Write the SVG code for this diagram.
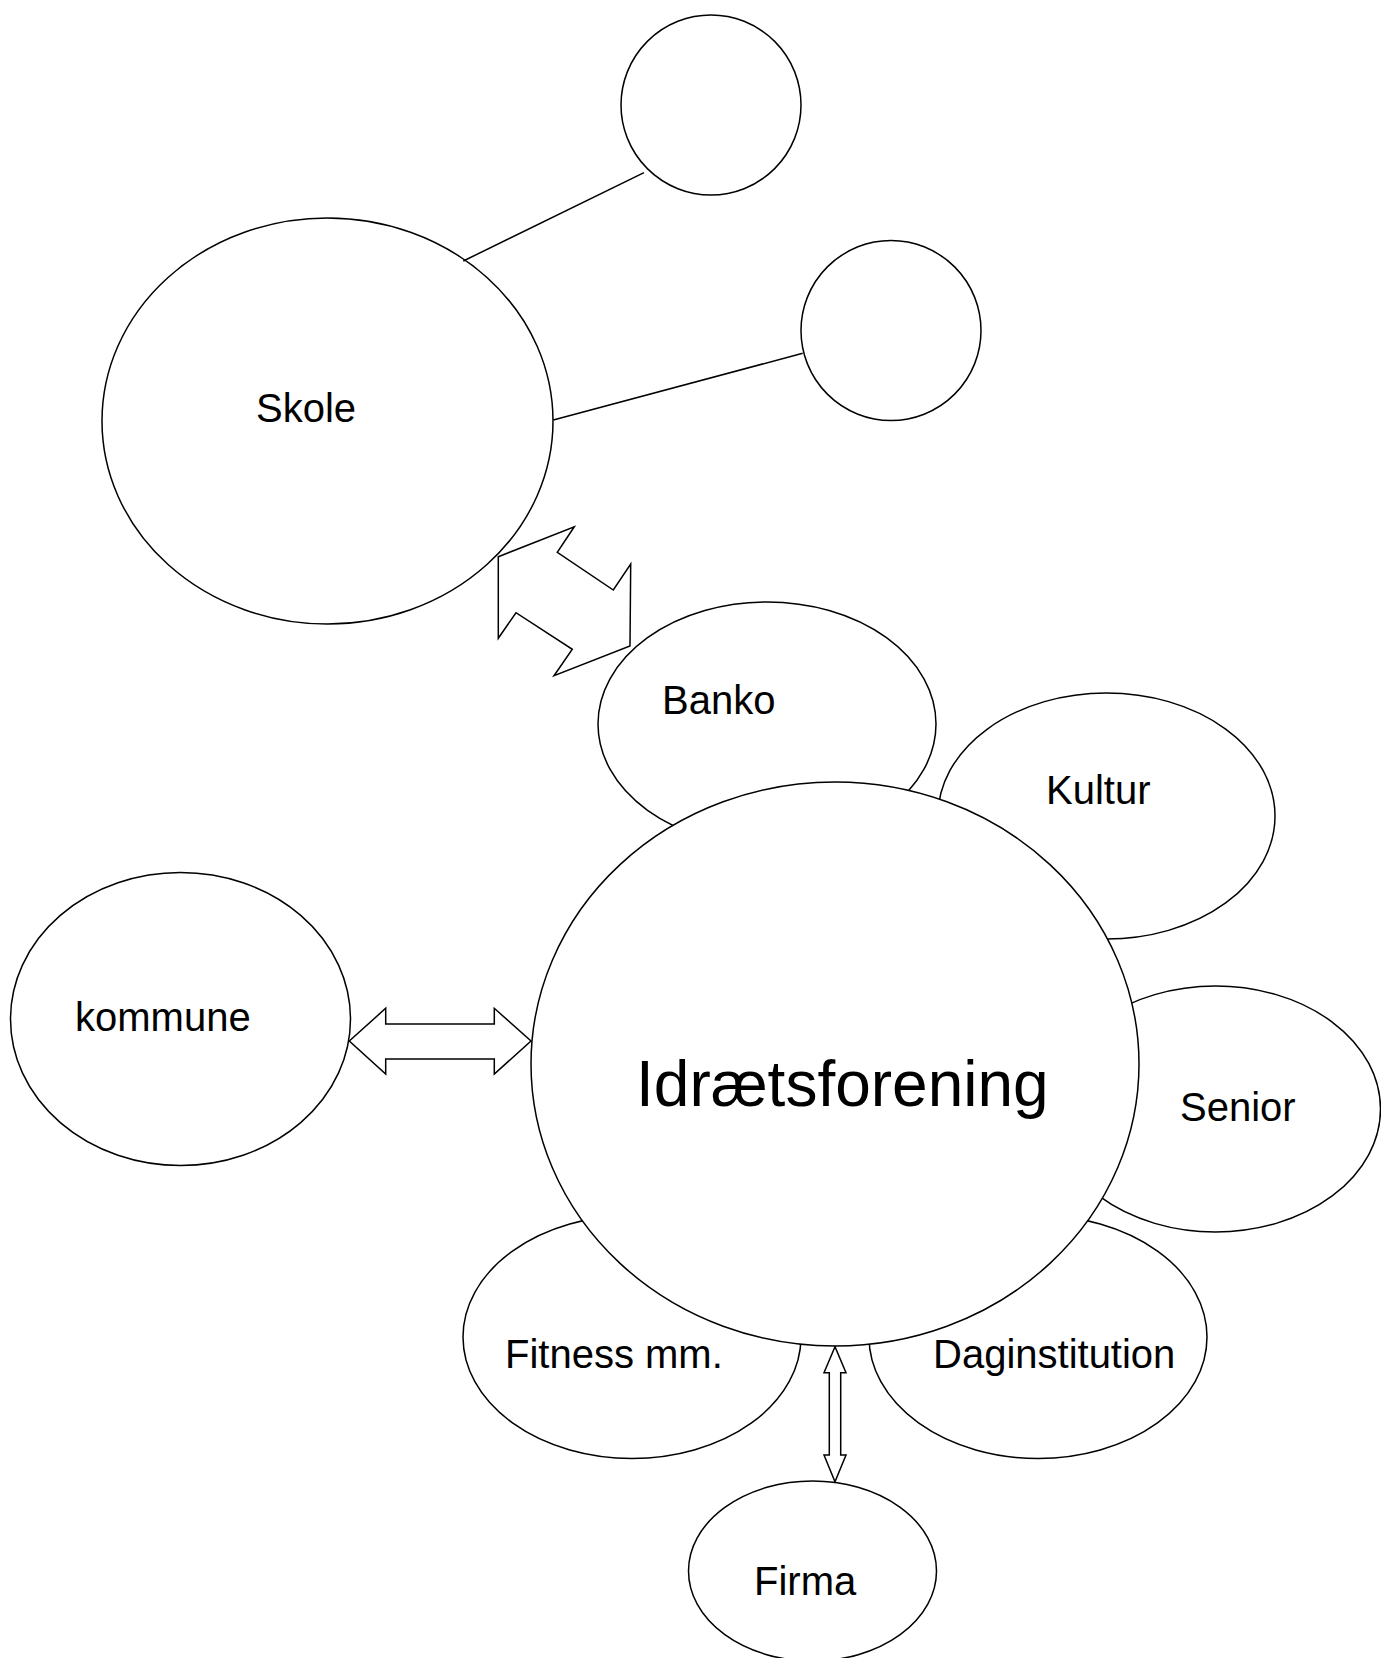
<svg xmlns="http://www.w3.org/2000/svg" width="1381" height="1658" viewBox="0 0 1381 1658">
<style>
.n{fill:#fff;stroke:#000;stroke-width:1.5}
.t{font-family:"Liberation Sans",Arial,sans-serif;font-size:40px;fill:#000}
.big{font-size:64px}
.c{stroke:#000;stroke-width:1.5;fill:none}
.a{fill:#fff;stroke:#000;stroke-width:1.5;stroke-linejoin:miter}
</style>
<rect width="1381" height="1658" fill="#fff"/>
<g id="circle-top"><circle class="n" cx="711" cy="105" r="90"/></g>
<g id="circle-right"><circle class="n" cx="891" cy="330.5" r="90"/></g>
<g id="skole"><ellipse class="n" cx="327.5" cy="421" rx="225.5" ry="203"/><text class="t" x="256" y="422">Skole</text></g>
<g id="banko"><ellipse class="n" cx="767" cy="724" rx="169" ry="122"/><text class="t" x="662" y="714">Banko</text></g>
<g id="kultur"><ellipse class="n" cx="1106.5" cy="816" rx="168.5" ry="123"/><text class="t" x="1046" y="804">Kultur</text></g>
<g id="senior"><ellipse class="n" cx="1215.5" cy="1109" rx="165" ry="123"/><text class="t" x="1180" y="1121">Senior</text></g>
<g id="fitness"><ellipse class="n" cx="632" cy="1337" rx="169" ry="121.5"/><text class="t" x="505" y="1368">Fitness mm.</text></g>
<g id="daginstitution"><ellipse class="n" cx="1038" cy="1337" rx="169" ry="121.5"/><text class="t" x="933" y="1368">Daginstitution</text></g>
<g id="idraetsforening"><ellipse class="n" cx="835" cy="1064" rx="304" ry="282"/><text class="t big" x="636" y="1106">Idrætsforening</text></g>
<g id="kommune"><ellipse class="n" cx="180.5" cy="1019" rx="170" ry="146.5"/><text class="t" x="75" y="1031">kommune</text></g>
<g id="firma"><ellipse class="n" cx="812.5" cy="1571" rx="124" ry="90"/><text class="t" x="754" y="1595">Firma</text></g>
<g id="connectors">
<line class="c" x1="463.3" y1="261" x2="644" y2="172.7"/>
<line class="c" x1="553.3" y1="420" x2="802.7" y2="353.3"/>
<polygon class="a" points="498.3,556.7 574.3,526.7 557.3,552.3 613.3,590 630.7,564 630,646 554,675.7 572.3,649.3 516,612.7 498.3,638.3"/>
<polygon class="a" points="349.3,1041 385.7,1008.3 385.7,1024 494.3,1024 494.3,1008.3 531,1041 494.3,1074 494.3,1059 385.7,1059 385.7,1074"/>
<polygon class="a" points="835,1346.7 824,1372.7 829.3,1372.7 829.3,1455 824,1455 835,1481.7 846,1455 840.7,1455 840.7,1372.7 846,1372.7"/>
</g>
</svg>
